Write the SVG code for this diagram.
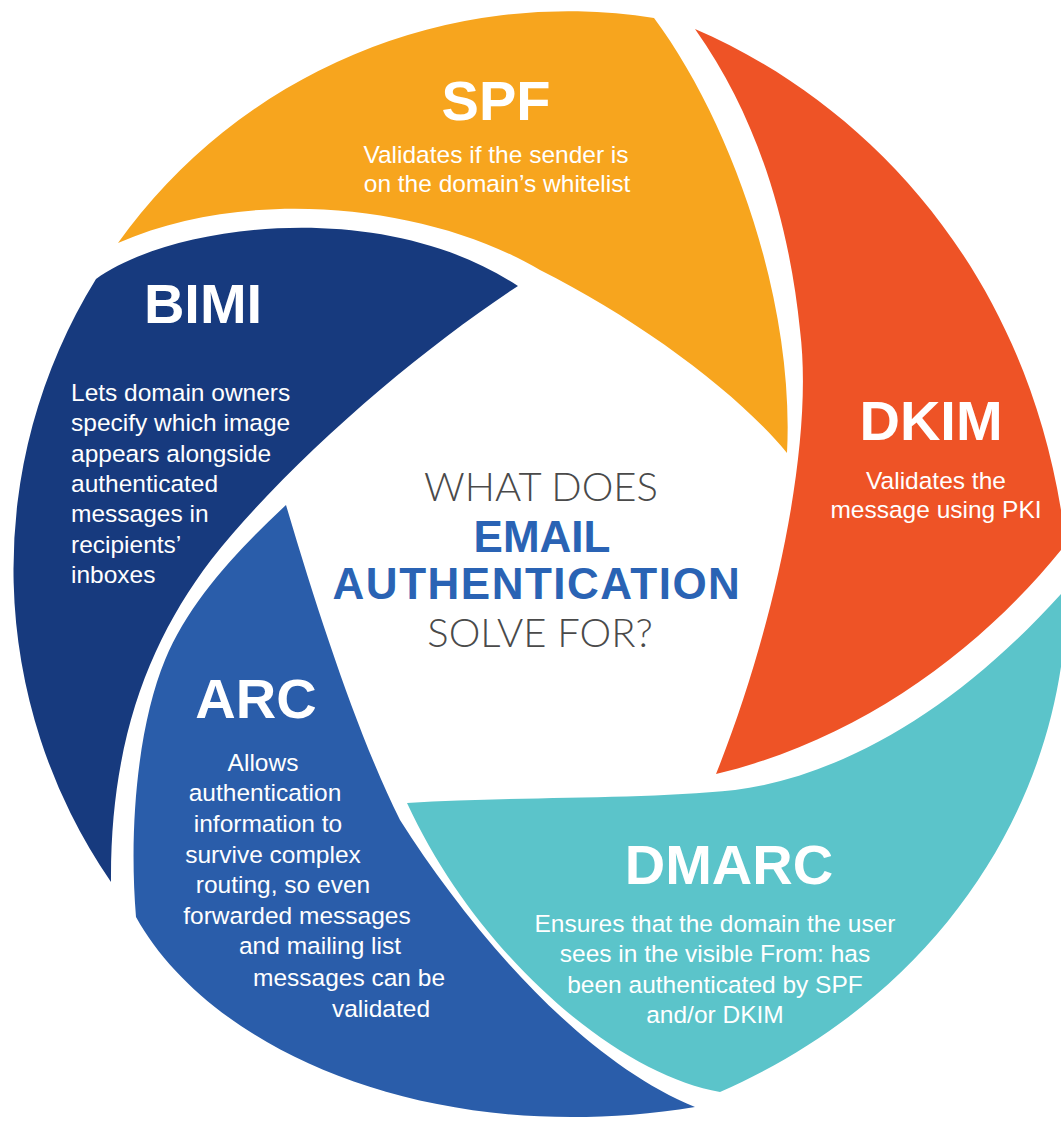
<svg xmlns="http://www.w3.org/2000/svg" width="1061" height="1122" viewBox="0 0 1061 1122">
<style>
.title{font-family:"Liberation Sans",Arial,sans-serif;font-weight:700;font-size:56px;fill:#fff;text-anchor:middle}
.desc{font-family:"Liberation Sans",Arial,sans-serif;font-size:24.5px;fill:#fff;text-anchor:middle}
.descl{font-family:"Liberation Sans",Arial,sans-serif;font-size:24.5px;fill:#fff}
.light{font-family:Lato,"Liberation Sans",sans-serif;font-weight:300;font-size:40px;fill:#4a4a4a;text-anchor:middle}
.strong{font-family:"Liberation Sans",Arial,sans-serif;font-weight:700;font-size:44px;fill:#2a63b4;text-anchor:middle}
</style>
<rect width="1061" height="1122" fill="#fff"/>
<g id="spf">
<path fill="#f7a51e" d="M118,243 A553,553 0 0 1 654,18 C730,120 795,300 787,453 C740,395 640,320 540,270 C430,205 250,185 118,243 Z"/>
<text class="title" x="496" y="120">SPF</text>
<text class="desc" x="496" y="163">Validates if the sender is</text>
<text class="desc" x="497" y="192">on the domain’s whitelist</text>
</g>
<g id="dkim">
<path fill="#ee5326" d="M695,29 C860,100 1020,260 1061,510 L1090,510 L1090,545 L1061,550 C980,650 860,740 716,774 C770,640 815,450 800,330 C790,230 760,120 695,29 Z"/>
<text class="title" x="931" y="440">DKIM</text>
<text class="desc" x="936" y="489">Validates the</text>
<text class="desc" x="936" y="518">message using PKI</text>
</g>
<g id="dmarc">
<path fill="#5bc4ca" d="M407,803 C520,796 640,800 735,790 C850,775 970,700 1075,578 L1065,632 C1050,820 930,1000 720,1092 C620,1075 480,960 407,803 Z"/>
<text class="title" x="729" y="884">DMARC</text>
<text class="desc" x="715" y="932">Ensures that the domain the user</text>
<text class="desc" x="715" y="962">sees in the visible From: has</text>
<text class="desc" x="715" y="993">been authenticated by SPF</text>
<text class="desc" x="715" y="1023">and/or DKIM</text>
</g>
<g id="arc">
<path fill="#2a5daa" d="M286,505 C320,620 360,740 400,820 C470,930 580,1060 695,1107 C430,1150 210,1050 136,917 C128,820 140,720 165,660 C190,600 240,548 286,505 Z"/>
<text class="title" x="256" y="718">ARC</text>
<text class="desc" x="263" y="771">Allows</text>
<text class="desc" x="265" y="801">authentication</text>
<text class="desc" x="268" y="832">information to</text>
<text class="desc" x="273" y="863">survive complex</text>
<text class="desc" x="283" y="893">routing, so even</text>
<text class="desc" x="297" y="924">forwarded messages</text>
<text class="desc" x="320" y="954">and mailing list</text>
<text class="desc" x="349" y="986">messages can be</text>
<text class="desc" x="381" y="1017">validated</text>
</g>
<g id="bimi">
<path fill="#173a7e" d="M96,279 C170,225 380,195 518,286 C420,350 290,460 211,560 C150,640 110,740 111,882 A551,551 0 0 1 96,279 Z"/>
<text class="title" x="203" y="323">BIMI</text>
<text class="descl" x="71" y="401">Lets domain owners</text>
<text class="descl" x="71" y="431">specify which image</text>
<text class="descl" x="71" y="462">appears alongside</text>
<text class="descl" x="71" y="492">authenticated</text>
<text class="descl" x="71" y="522">messages in</text>
<text class="descl" x="71" y="553">recipients’</text>
<text class="descl" x="71" y="583">inboxes</text>
</g>
<g id="center">
<text class="light" x="541" y="501">WHAT DOES</text>
<text class="strong" x="542" y="552">EMAIL</text>
<text class="strong" x="537" y="599" letter-spacing="1.5">AUTHENTICATION</text>
<text class="light" x="540" y="647">SOLVE FOR?</text>
</g>
<g id="connectors"/>
</svg>
